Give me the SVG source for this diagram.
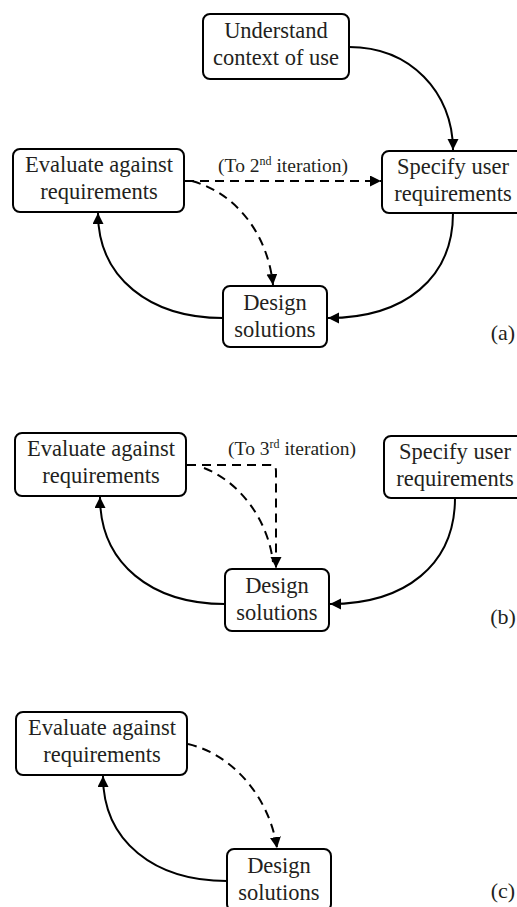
<svg xmlns="http://www.w3.org/2000/svg" width="517" height="907" viewBox="0 0 517 907">
  <style>
    text { font-family: 'Liberation Serif', 'Times New Roman', Times, serif; fill: #231f20; text-anchor: middle; }
    .box { fill: #ffffff; stroke: #000000; stroke-width: 2; }
    .lbl { font-size: 22.5px; }
    .note { font-size: 19.5px; }
    .tag { font-size: 22px; }
    .solid { fill: none; stroke: #000000; stroke-width: 2; marker-end: url(#arrow); }
    .dash { fill: none; stroke: #000000; stroke-width: 2; stroke-dasharray: 9 6; marker-end: url(#arrow); }
    .dashplain { fill: none; stroke: #000000; stroke-width: 2; stroke-dasharray: 9 6; }
  </style>
  <defs>
    <marker id="arrow" markerUnits="userSpaceOnUse" markerWidth="12" markerHeight="12" refX="11" refY="5.5" orient="auto">
      <path d="M0,0 L11,5.5 L0,11 Z" fill="#000000"/>
    </marker>
  </defs>
  <rect width="517" height="907" fill="#ffffff"/>

  <!-- connectors -->
  <g id="connectors">
    <!-- (a) -->
    <path class="solid" d="M349,47 C410,47 453,92 453,150"/>
    <path class="solid" d="M453,213 C453,278 405,318 328,318"/>
    <path class="solid" d="M223,318 C150,318 98,278 98,213"/>
    <path class="dash" d="M185,181 L381,181"/>
    <path class="dash" d="M192,181 C238,194 268,236 273,285"/>
    <!-- (b) -->
    <path class="solid" d="M455,498 C455,565 405,604 330,604"/>
    <path class="solid" d="M225,604 C152,604 100,564 100,497"/>
    <path class="dash" d="M187,465 L270,465 Q276,465 276,471 L276,568"/>
    <path class="dashplain" d="M204,468 C240,482 268,520 273,562"/>
    <!-- (c) -->
    <path class="solid" d="M227,881 C155,881 103,842 103,776"/>
    <path class="dash" d="M188,744 C235,755 270,800 277,848"/>
  </g>

  <g font-family="'Liberation Serif', 'Times New Roman', serif">
  <!-- panel (a) -->
  <g id="a-understand">
    <rect class="box" x="203" y="14" width="146" height="65" rx="7"/>
    <text class="lbl" x="276" y="38">Understand</text>
    <text class="lbl" x="276" y="65">context of use</text>
  </g>
  <g id="a-evaluate">
    <rect class="box" x="13" y="149" width="171" height="63" rx="7"/>
    <text class="lbl" x="99" y="172">Evaluate against</text>
    <text class="lbl" x="99" y="199">requirements</text>
  </g>
  <g id="a-specify">
    <rect class="box" x="382" y="151" width="142" height="62" rx="7"/>
    <text class="lbl" x="453" y="174">Specify user</text>
    <text class="lbl" x="453" y="201">requirements</text>
  </g>
  <g id="a-design">
    <rect class="box" x="223" y="286" width="104" height="61" rx="7"/>
    <text class="lbl" x="275" y="310">Design</text>
    <text class="lbl" x="275" y="337">solutions</text>
  </g>
  <text class="note" x="283" y="172">(To 2<tspan font-size="12" dy="-7">nd</tspan><tspan dy="7"> iteration)</tspan></text>
  <text class="tag" x="503" y="340">(a)</text>

  <!-- panel (b) -->
  <g id="b-evaluate">
    <rect class="box" x="15" y="433" width="171" height="63" rx="7"/>
    <text class="lbl" x="101" y="456">Evaluate against</text>
    <text class="lbl" x="101" y="483">requirements</text>
  </g>
  <g id="b-specify">
    <rect class="box" x="384" y="436" width="142" height="62" rx="7"/>
    <text class="lbl" x="455" y="459">Specify user</text>
    <text class="lbl" x="455" y="486">requirements</text>
  </g>
  <g id="b-design">
    <rect class="box" x="225" y="569" width="104" height="62" rx="7"/>
    <text class="lbl" x="277" y="593">Design</text>
    <text class="lbl" x="277" y="620">solutions</text>
  </g>
  <text class="note" x="292" y="455">(To 3<tspan font-size="12" dy="-7">rd</tspan><tspan dy="7"> iteration)</tspan></text>
  <text class="tag" x="503" y="624">(b)</text>

  <!-- panel (c) -->
  <g id="c-evaluate">
    <rect class="box" x="16" y="712" width="171" height="63" rx="7"/>
    <text class="lbl" x="102" y="735">Evaluate against</text>
    <text class="lbl" x="102" y="762">requirements</text>
  </g>
  <g id="c-design">
    <rect class="box" x="227" y="849" width="104" height="62" rx="7"/>
    <text class="lbl" x="279" y="873">Design</text>
    <text class="lbl" x="279" y="900">solutions</text>
  </g>
  <text class="tag" x="503" y="898">(c)</text>
  </g>
</svg>
